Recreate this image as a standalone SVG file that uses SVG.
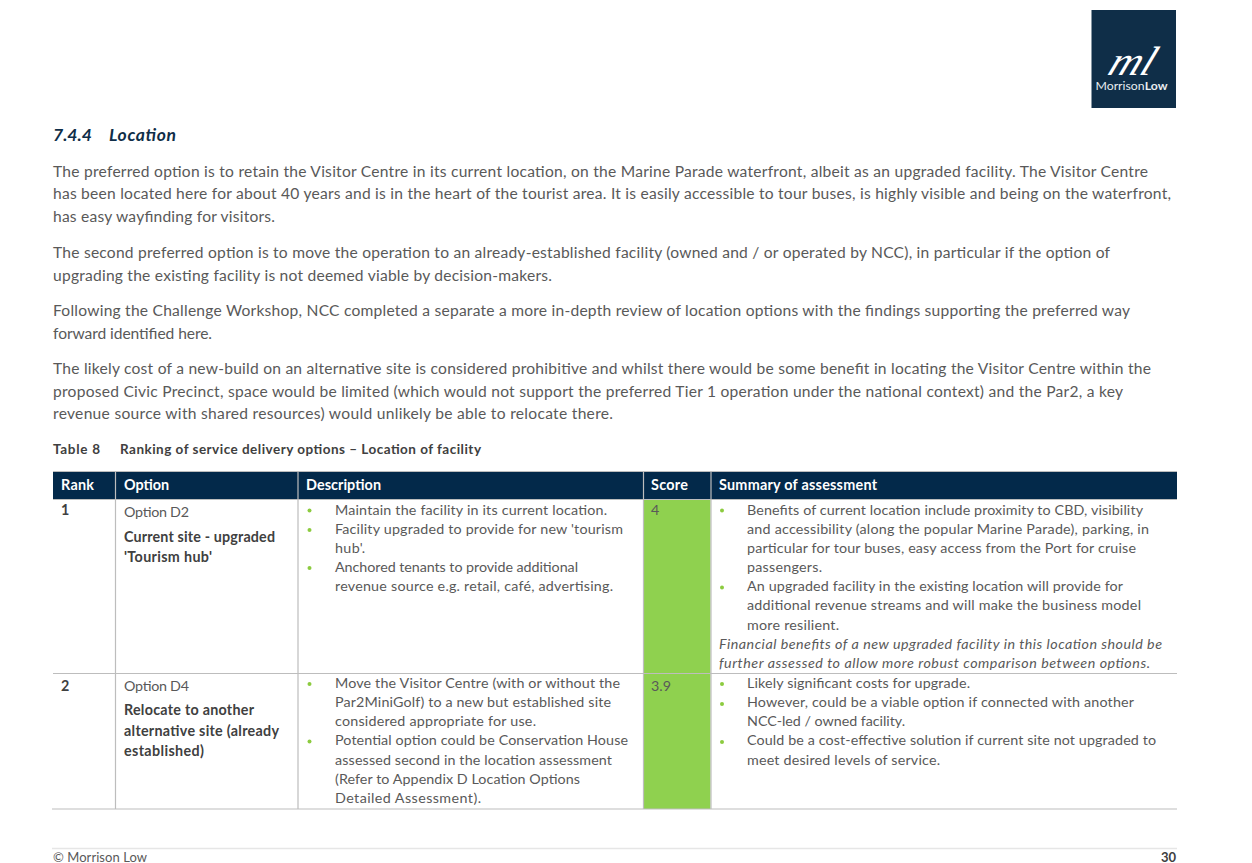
<svg xmlns="http://www.w3.org/2000/svg" width="1252" height="863" viewBox="0 0 1252 863">
<style>
text{font-family:Lato,"Open Sans","Liberation Sans",sans-serif;fill:#595959;font-size:14.3px}
.p{font-size:15.6px}
.b{font-weight:700;fill:#404040}
.h{font-weight:700;fill:#fff;font-size:14.4px}
.i{font-style:italic}
.dot{fill:#8ccb3f}
.g{stroke:#bdbdbd;stroke-width:1.2;fill:none}
</style>
<rect width="1252" height="863" fill="#fff"/>
<g id="logo">
<rect x="1091.500" y="10" width="84.500" height="98" fill="#0f2e48"/>
<text x="1106" y="75" transform="translate(1106 75) skewX(-22) translate(-1106 -75)" style="font-family:'Liberation Serif',serif;font-style:italic;font-size:41px;fill:#fff" textLength="44" lengthAdjust="spacingAndGlyphs">ml</text>
<text x="1095.500" y="90" style="font-size:11.500px;fill:#e8edf0" textLength="72" lengthAdjust="spacingAndGlyphs">Morrison<tspan font-weight="700">Low</tspan></text>
</g>
<g id="heading">
<text x="53" y="141" style="font-size:17.500px;font-weight:700;font-style:italic;fill:#0f2e48">7.4.4</text>
<text x="109" y="141" style="font-size:17.500px;font-weight:700;font-style:italic;fill:#0f2e48" textLength="67" lengthAdjust="spacing">Location</text>
</g>
<g id="body">
<text class="p" x="53" y="177" textLength="1095" lengthAdjust="spacing">The preferred option is to retain the Visitor Centre in its current location, on the Marine Parade waterfront, albeit as an upgraded facility. The Visitor Centre</text>
<text class="p" x="53" y="199" textLength="1118" lengthAdjust="spacing">has been located here for about 40 years and is in the heart of the tourist area. It is easily accessible to tour buses, is highly visible and being on the waterfront,</text>
<text class="p" x="53" y="222" textLength="222" lengthAdjust="spacing">has easy wayfinding for visitors.</text>
<text class="p" x="53" y="258" textLength="1057" lengthAdjust="spacing">The second preferred option is to move the operation to an already-established facility (owned and / or operated by NCC), in particular if the option of</text>
<text class="p" x="53" y="281" textLength="499" lengthAdjust="spacing">upgrading the existing facility is not deemed viable by decision-makers.</text>
<text class="p" x="53" y="316" textLength="1077" lengthAdjust="spacing">Following the Challenge Workshop, NCC completed a separate a more in-depth review of location options with the findings supporting the preferred way</text>
<text class="p" x="53" y="339" textLength="159" lengthAdjust="spacing">forward identified here.</text>
<text class="p" x="53" y="374" textLength="1098" lengthAdjust="spacing">The likely cost of a new-build on an alternative site is considered prohibitive and whilst there would be some benefit in locating the Visitor Centre within the</text>
<text class="p" x="53" y="397" textLength="1070" lengthAdjust="spacing">proposed Civic Precinct, space would be limited (which would not support the preferred Tier 1 operation under the national context) and the Par2, a key</text>
<text class="p" x="53" y="419" textLength="560" lengthAdjust="spacing">revenue source with shared resources) would unlikely be able to relocate there.</text>
</g>
<g id="caption">
<text class="b" x="53" y="454" style="font-size:13.500px" textLength="47" lengthAdjust="spacing">Table 8</text>
<text class="b" x="120" y="454" style="font-size:13.500px" textLength="361" lengthAdjust="spacing">Ranking of service delivery options – Location of facility</text>
</g>
<g id="table">
<rect x="644" y="499" width="66.500" height="310" fill="#8fd14f"/>
<rect x="53" y="472" width="1124" height="27.500" fill="#03294a"/>
<path class="g" d="M115.500 472V809M298 472V809M643.500 472V809M711 472V809M53 673.500H1177M52 809H1177"/>
<path d="M53 471.500H1177M53 499.500H1177" stroke="#bdbdbd" stroke-width="1" fill="none"/>
<text class="h" x="61" y="490" textLength="33" lengthAdjust="spacing">Rank</text>
<text class="h" x="124" y="490" textLength="45" lengthAdjust="spacing">Option</text>
<text class="h" x="306" y="490" textLength="75" lengthAdjust="spacing">Description</text>
<text class="h" x="651" y="490" textLength="37" lengthAdjust="spacing">Score</text>
<text class="h" x="719" y="490" textLength="158" lengthAdjust="spacing">Summary of assessment</text>
<g id="row1">
<text class="b" x="61" y="515">1</text>
<text x="124" y="517" textLength="65" lengthAdjust="spacing">Option D2</text>
<text class="b" x="124" y="542" textLength="151" lengthAdjust="spacing">Current site - upgraded</text>
<text class="b" x="124" y="562" textLength="88" lengthAdjust="spacing">'Tourism hub'</text>
<circle class="dot" cx="309.500" cy="510.500" r="2"/>
<circle class="dot" cx="309.500" cy="530" r="2"/>
<circle class="dot" cx="309.500" cy="568" r="2"/>
<text x="335" y="515" textLength="272" lengthAdjust="spacing">Maintain the facility in its current location.</text>
<text x="335" y="534" textLength="288" lengthAdjust="spacing">Facility upgraded to provide for new 'tourism</text>
<text x="335" y="553" textLength="30" lengthAdjust="spacing">hub'.</text>
<text x="335" y="572" textLength="243" lengthAdjust="spacing">Anchored tenants to provide additional</text>
<text x="335" y="591" textLength="278" lengthAdjust="spacing">revenue source e.g. retail, café, advertising.</text>
<text x="651" y="515">4</text>
<circle class="dot" cx="722" cy="510.500" r="2"/>
<circle class="dot" cx="722" cy="587.500" r="2"/>
<text x="747" y="515" textLength="396" lengthAdjust="spacing">Benefits of current location include proximity to CBD, visibility</text>
<text x="747" y="534" textLength="402" lengthAdjust="spacing">and accessibility (along the popular Marine Parade), parking, in</text>
<text x="747" y="553" textLength="389" lengthAdjust="spacing">particular for tour buses, easy access from the Port for cruise</text>
<text x="747" y="572" textLength="75" lengthAdjust="spacing">passengers.</text>
<text x="747" y="591" textLength="376" lengthAdjust="spacing">An upgraded facility in the existing location will provide for</text>
<text x="747" y="610" textLength="394" lengthAdjust="spacing">additional revenue streams and will make the business model</text>
<text x="747" y="630" textLength="92" lengthAdjust="spacing">more resilient.</text>
<text class="i" x="719" y="649" textLength="443" lengthAdjust="spacing">Financial benefits of a new upgraded facility in this location should be</text>
<text class="i" x="719" y="668" textLength="431" lengthAdjust="spacing">further assessed to allow more robust comparison between options.</text>
</g>
<g id="row2">
<text class="b" x="61" y="691">2</text>
<text x="124" y="691" textLength="65" lengthAdjust="spacing">Option D4</text>
<text class="b" x="124" y="715" textLength="130" lengthAdjust="spacing">Relocate to another</text>
<text class="b" x="124" y="736" textLength="155" lengthAdjust="spacing">alternative site (already</text>
<text class="b" x="124" y="756" textLength="80" lengthAdjust="spacing">established)</text>
<circle class="dot" cx="309.500" cy="684" r="2"/>
<circle class="dot" cx="309.500" cy="741.500" r="2"/>
<text x="335" y="688" textLength="285" lengthAdjust="spacing">Move the Visitor Centre (with or without the</text>
<text x="335" y="707" textLength="276" lengthAdjust="spacing">Par2MiniGolf) to a new but established site</text>
<text x="335" y="726" textLength="201" lengthAdjust="spacing">considered appropriate for use.</text>
<text x="335" y="745" textLength="293" lengthAdjust="spacing">Potential option could be Conservation House</text>
<text x="335" y="765" textLength="277" lengthAdjust="spacing">assessed second in the location assessment</text>
<text x="335" y="784" textLength="245" lengthAdjust="spacing">(Refer to Appendix D Location Options</text>
<text x="335" y="803" textLength="146" lengthAdjust="spacing">Detailed Assessment).</text>
<text x="651" y="691">3.9</text>
<circle class="dot" cx="722" cy="684" r="2"/>
<circle class="dot" cx="722" cy="704" r="2"/>
<circle class="dot" cx="722" cy="742" r="2"/>
<text x="747" y="688" textLength="223" lengthAdjust="spacing">Likely significant costs for upgrade.</text>
<text x="747" y="707" textLength="387" lengthAdjust="spacing">However, could be a viable option if connected with another</text>
<text x="747" y="726" textLength="158" lengthAdjust="spacing">NCC-led / owned facility.</text>
<text x="747" y="745" textLength="409" lengthAdjust="spacing">Could be a cost-effective solution if current site not upgraded to</text>
<text x="747" y="765" textLength="193" lengthAdjust="spacing">meet desired levels of service.</text>
</g>
</g>
<g id="footer">
<path d="M52 848.500H1177" stroke="#e6e6e6" stroke-width="1.500" fill="none"/>
<text x="53" y="862" style="font-size:13px" textLength="94" lengthAdjust="spacing">© Morrison Low</text>
<text class="b" x="1176" y="862" text-anchor="end" style="font-size:13px">30</text>
</g>
</svg>
